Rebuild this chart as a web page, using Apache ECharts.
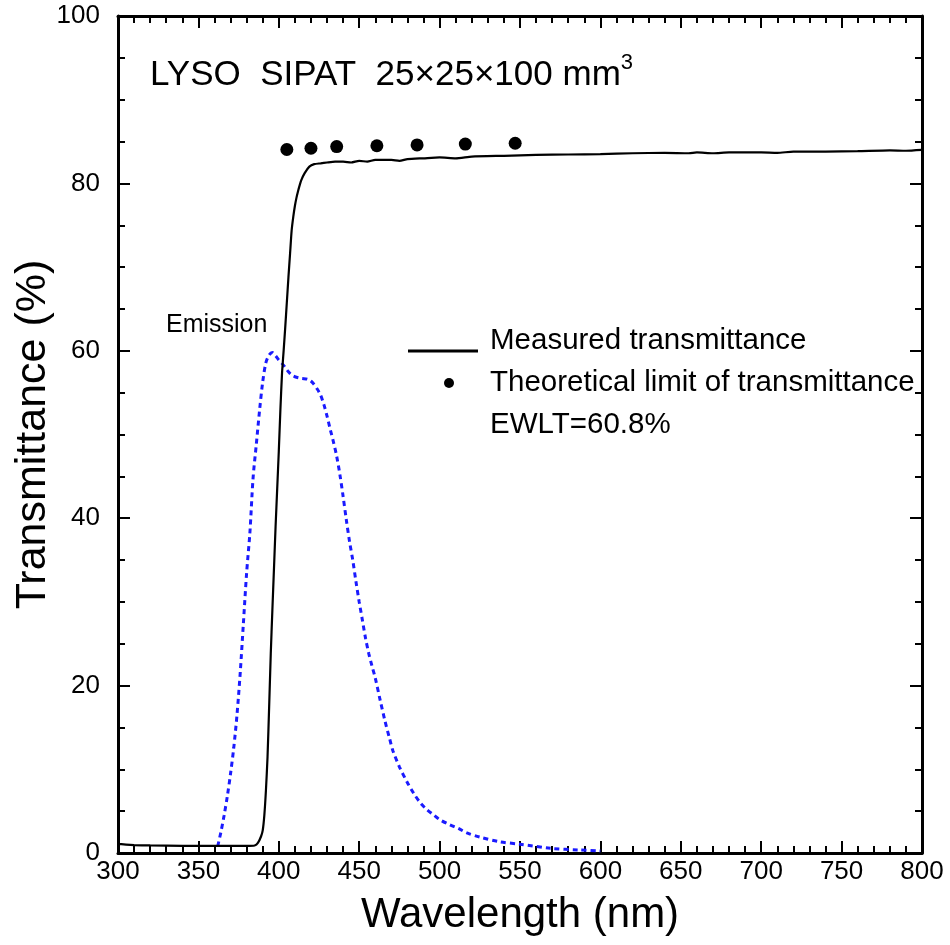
<!DOCTYPE html>
<html>
<head>
<meta charset="utf-8">
<script src="https://cdn.jsdelivr.net/npm/echarts@6/dist/echarts.min.js"></script>
<style>html,body{margin:0;padding:0;background:#fff}#c{width:950px;height:945px}</style>
</head>
<body>
<div id="c"></div>
<script>
// Measured transmittance (wavelength nm, %)
const measured = [
  [300,1.1],[302,1.05],[305,1.0],[310,0.95],[320,0.9],[340,0.85],[360,0.85],[380,0.85],[385,0.9],
  [387,1.2],[389,2.0],[390,2.7],[391,4.5],[392,7.5],[393,11.5],[394,17.5],[395,23.8],[396,29],
  [397,34],[398,39],[399,43.5],[400,48],[401,53],[402,57.3],[403,60.0],[404,62.8],[405,65.8],
  [406,68.8],[407,71.6],[408,74.4],[409,76],[410,77.3],[411,78.3],[412,79.1],[413,79.8],[414,80.4],
  [416,81.2],[419,82.0],[422,82.3],[426,82.4],[430,82.5],[435,82.6],[440,82.6],[445,82.5],[450,82.7],
  [455,82.6],[460,82.8],[470,82.8],[475,82.7],[480,82.9],[490,83.0],[500,83.1],[510,83.0],[520,83.2],
  [540,83.3],[560,83.4],[580,83.45],[600,83.5],[620,83.6],[640,83.65],[655,83.6],[660,83.7],[670,83.6],
  [680,83.7],[700,83.7],[710,83.65],[720,83.8],[740,83.8],[760,83.85],[780,83.95],[790,83.9],[800,84.0]
];
// Emission spectrum (arbitrary scale on % axis)
const emission = [
  [362,0.8],[364,2.5],[366,4.5],[368,6.8],[370,9.5],[372,12.6],[374,16.5],[376,21.5],[378,27.5],
  [380,33.5],[382,38.2],[384,44.8],[386,48.8],[388,52.8],[390,56.3],[392,58.6],[394,59.5],[396,59.8],
  [398,59.4],[400,58.9],[402,58.5],[404,58.0],[406,57.5],[408,57.1],[410,56.9],[414,56.7],[418,56.6],
  [421,56.2],[424,55.4],[426,54.7],[428,53.6],[430,52.2],[432,50.6],[434,49.1],[436,47.4],[438,45.2],
  [440,42.6],[442,39.8],[444,37.2],[446,35.0],[448,32.4],[450,30.0],[452,27.8],[454,25.6],[456,23.8],
  [458,22.3],[460,20.9],[463,18.3],[466,15.8],[469,13.6],[471,12.2],[475,10.3],[480,8.4],[484,7.1],
  [488,6.0],[492,5.2],[496,4.6],[500,4.0],[506,3.4],[512,2.9],[517,2.4],[525,1.9],[537,1.35],
  [550,1.05],[569,0.56],[587,0.36],[600,0.24]
];
// Theoretical limit of transmittance
const theoretical = [[405,84.05],[420,84.2],[436,84.4],[461,84.5],[486,84.6],[516,84.7],[547,84.8]];

const titleText = 'LYSO  SIPAT  25×25×100 mm{sup|3}';
const legendLabels = ['Measured transmittance','Theoretical limit of transmittance','EWLT=60.8%'];
const emissionLabel = 'Emission';
const xTitle = 'Wavelength (nm)';
const yTitle = 'Transmittance (%)';

const FONT = 'Liberation Sans, Arial, sans-serif';
const chart = echarts.init(document.getElementById('c'), null, {renderer:'canvas'});

const axisLine = {show:true, onZero:false, lineStyle:{color:'#000', width:3}};
function xAx(pos, labels){
  return {type:'value', position:pos, min:300, max:800, interval:50,
    axisLine, axisTick:{show:true, inside:true, length:12, lineStyle:{color:'#000',width:2}},
    minorTick:{show:true, splitNumber:5, length:7, lineStyle:{color:'#000',width:2}},
    splitLine:{show:false}, minorSplitLine:{show:false},
    axisLabel:{show:labels, color:'#000', fontSize:26, fontFamily:FONT, margin:6},
    name: labels ? xTitle : '', nameLocation:'middle', nameGap:41, nameMoveOverlap:false,
    nameTextStyle:{fontSize:42, color:'#000', fontFamily:FONT}};
}
function yAx(pos, labels){
  return {type:'value', position:pos, min:0, max:100, interval:20,
    axisLine, axisTick:{show:true, inside:true, length:12, lineStyle:{color:'#000',width:2}},
    minorTick:{show:true, splitNumber:4, length:7, lineStyle:{color:'#000',width:2}},
    splitLine:{show:false}, minorSplitLine:{show:false},
    axisLabel:{show:labels, color:'#000', fontSize:26, fontFamily:FONT, margin:18},
    name: labels ? yTitle : '', nameLocation:'middle', nameGap:63, nameRotate:90, nameMoveOverlap:false,
    nameTextStyle:{fontSize:43, color:'#000', fontFamily:FONT}};
}

chart.setOption({
  animation:false,
  backgroundColor:'#fff',
  grid:{left:118, right:28, top:16, bottom:92, containLabel:false, outerBoundsMode:'none'},
  xAxis:[xAx('bottom', true), xAx('top', false)],
  yAxis:[yAx('left', true), yAx('right', false)],
  series:[
    {type:'line', data:emission, showSymbol:false, smooth:0.3,
      lineStyle:{color:'#1a1aff', width:3, type:[5,4]}, z:2},
    {type:'line', data:measured, showSymbol:false, smooth:0.2,
      lineStyle:{color:'#000', width:2.2}, z:3},
    {type:'scatter', data:theoretical, symbol:'circle', symbolSize:13,
      itemStyle:{color:'#000', opacity:1}, z:4}
  ],
  graphic:[
    {type:'text', left:150, top:52, style:{text:titleText, font:'35px '+FONT, fill:'#000',
      rich:{sup:{fontSize:22, fontFamily:FONT, verticalAlign:'top', padding:[0,0,24,0], fill:'#000'}}}},
    {type:'text', left:166, top:313, style:{text:emissionLabel, font:'25px '+FONT, fill:'#000'}},
    {type:'line', shape:{x1:408, y1:351, x2:478, y2:351}, style:{stroke:'#000', lineWidth:3}},
    {type:'circle', shape:{cx:449, cy:383, r:5}, style:{fill:'#000'}},
    {type:'text', left:490, top:326, style:{text:legendLabels[0], font:'29.5px '+FONT, fill:'#000'}},
    {type:'text', left:490, top:368, style:{text:legendLabels[1], font:'29.5px '+FONT, fill:'#000'}},
    {type:'text', left:490, top:410, style:{text:legendLabels[2], font:'29.5px '+FONT, fill:'#000'}}
  ]
});
</script>
</body>
</html>
